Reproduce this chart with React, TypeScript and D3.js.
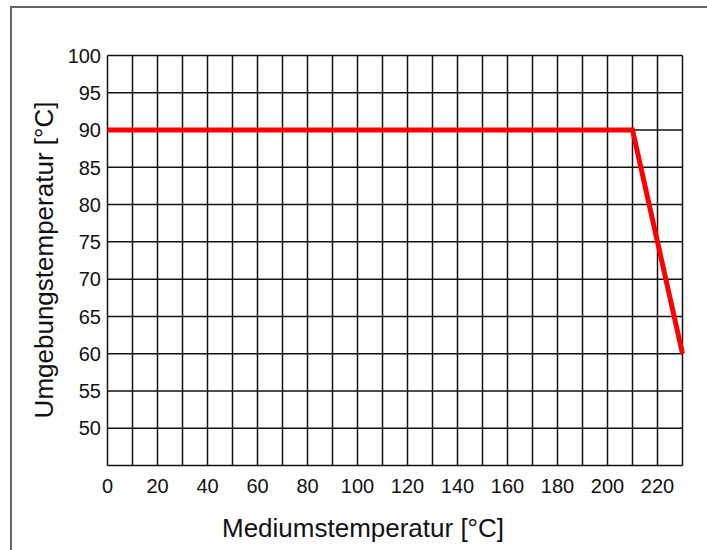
import React from "react";
import * as d3 from "d3";

const xTicks = [0, 20, 40, 60, 80, 100, 120, 140, 160, 180, 200, 220];
const yTicks = [50, 55, 60, 65, 70, 75, 80, 85, 90, 95, 100];
const curveX = [0, 210, 230];
const curveY = [90, 90, 60];

const W = 707;
const H = 550;
const margin = { left: 107.5, right: 24.5, top: 55.5, bottom: 84.5 };

const App = () => {
  const x = d3.scaleLinear().domain([0, 230]).range([margin.left, W - margin.right]);
  const y = d3.scaleLinear().domain([45, 100]).range([H - margin.bottom, margin.top]);

  const gridX = d3.range(0, 231, 10);
  const gridY = d3.range(45, 101, 5);

  const pts: [number, number][] = curveX.map((v, i) => [v, curveY[i]]);
  const path = d3
    .line<[number, number]>()
    .x((d) => x(d[0]))
    .y((d) => y(d[1]))(pts);

  const font = "Liberation Sans, Arial, Helvetica, sans-serif";

  return (
    <svg
      width={W}
      height={H}
      style={{ position: "absolute", left: 0, top: 0, background: "#fff" }}
      fontFamily={font}
    >
      <rect x={11} y={7} width={W} height={H} fill="none" stroke="#666" strokeWidth={2} />
      {gridX.map((v) => (
        <line key={"gx" + v} x1={x(v)} x2={x(v)} y1={y(45)} y2={y(100)} stroke="#111" strokeWidth={1.5} />
      ))}
      {gridY.map((v) => (
        <line key={"gy" + v} x1={x(0)} x2={x(230)} y1={y(v)} y2={y(v)} stroke="#111" strokeWidth={1.5} />
      ))}
      <path d={path || ""} fill="none" stroke="#ff0000" strokeWidth={5} strokeLinejoin="miter" />
      {yTicks.map((v) => (
        <text key={"yt" + v} x={101} y={y(v)} dy="0.36em" textAnchor="end" fontSize={20} fill="#111">
          {v}
        </text>
      ))}
      {xTicks.map((v) => (
        <text key={"xt" + v} x={x(v)} y={493} textAnchor="middle" fontSize={20} fill="#111">
          {v}
        </text>
      ))}
      <text x={363} y={537} textAnchor="middle" fontSize={26} fill="#111">
        Mediumstemperatur [°C]
      </text>
      <text
        transform={`translate(53, 260) rotate(-90)`}
        textAnchor="middle"
        fontSize={26}
        fill="#111"
      >
        Umgebungstemperatur [°C]
      </text>
    </svg>
  );
};

export default App;
